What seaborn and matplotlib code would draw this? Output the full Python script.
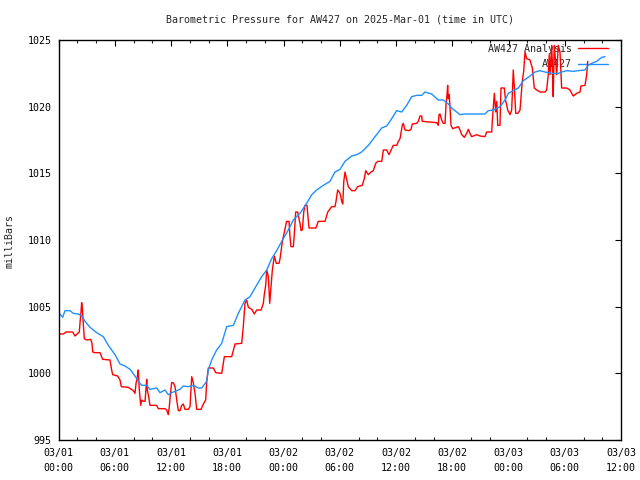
import matplotlib
matplotlib.use("Agg")
import matplotlib.pyplot as plt
import matplotlib.dates as mdates
import seaborn as sns
import pandas as pd

# ---- data (hours after 2025-03-01 00:00 UTC, pressure in mb) ----
station_hours = [0.16, 0.45, 0.69, 1.23, 1.58, 2.11, 2.47, 2.83, 3.36, 4.07, 4.78, 5.31, 6.03, 6.56,
                 7.09, 7.63, 8.16, 8.51, 8.87, 9.41, 9.76, 10.47, 10.83, 11.36, 11.71, 12.07, 12.96,
                 13.31, 13.84, 14.38, 14.91, 15.27, 15.81, 15.98, 16.34, 16.87, 17.41, 17.94, 18.65,
                 19.18, 19.89, 20.43, 20.96, 21.67, 22.21, 22.74, 23.27, 23.81, 24.51, 25.05, 25.76,
                 26.47, 27.01, 27.54, 28.25, 28.96, 29.49, 30.03, 30.56, 31.27, 31.81, 32.34, 33.05,
                 33.76, 34.47, 35.01, 35.54, 36.07, 36.61, 37.14, 37.67, 38.21, 38.74, 39.09, 39.81,
                 40.51, 41.05, 41.58, 41.94, 42.29, 42.83, 43.36, 44.07, 44.78, 45.49, 45.84, 46.38,
                 47.09, 47.63, 47.98, 48.51, 49.05, 49.58, 50.11, 50.83, 51.36, 51.89, 52.61, 53.31,
                 53.67, 54.21, 54.91, 55.45, 56.16, 56.51, 56.87, 57.41, 57.94, 58.29]
station_mb = [1004.45, 1004.2, 1004.7, 1004.7, 1004.5, 1004.45, 1004.3, 1003.9, 1003.45, 1003.05,
              1002.75, 1002.1, 1001.4, 1000.7, 1000.55, 1000.3, 999.8, 999.4, 999.1, 999.1, 998.8,
              998.9, 998.55, 998.75, 998.4, 998.55, 998.8, 999.05, 999.0, 999.1, 998.9, 998.9, 999.4,
              1000.25, 1001.0, 1001.75, 1002.25, 1003.5, 1003.6, 1004.5, 1005.5, 1005.75, 1006.4,
              1007.25, 1007.75, 1008.6, 1009.2, 1009.9, 1010.75, 1011.5, 1012.0, 1012.75, 1013.4,
              1013.75, 1014.1, 1014.4, 1015.1, 1015.3, 1015.9, 1016.3, 1016.4, 1016.6, 1017.1,
              1017.75, 1018.4, 1018.55, 1019.1, 1019.7, 1019.6, 1020.1, 1020.75, 1020.85, 1020.85,
              1021.1, 1020.95, 1020.5, 1020.5, 1020.2, 1019.9, 1019.7, 1019.4, 1019.45, 1019.45,
              1019.45, 1019.45, 1019.7, 1019.75, 1020.0, 1020.5, 1021.0, 1021.2, 1021.4, 1021.95,
              1022.2, 1022.6, 1022.7, 1022.6, 1022.5, 1022.5, 1022.6, 1022.7, 1022.65, 1022.7,
              1022.75, 1023.1, 1023.25, 1023.4, 1023.7, 1023.75]

analysis_hours = [0.16, 0.51, 0.80, 1.51, 1.76, 2.22, 2.29, 2.40, 2.47, 2.54, 2.65, 2.75, 3.01, 3.43,
                  3.57, 3.65, 3.89, 4.43, 4.71, 5.49, 5.67, 5.78, 6.31, 6.56, 6.70, 7.45, 7.98, 8.16,
                  8.27, 8.41, 8.51, 8.62, 8.77, 8.87, 9.05, 9.23, 9.41, 9.47, 9.62, 9.76, 10.47, 10.65,
                  11.36, 11.54, 11.71, 11.82, 11.89, 12.07, 12.24, 12.43, 12.61, 12.78, 12.96, 13.14,
                  13.31, 13.49, 13.84, 14.03, 14.21, 14.38, 14.56, 14.74, 15.20, 15.45, 15.70, 15.81,
                  15.98, 16.51, 16.77, 17.41, 17.69, 18.47, 18.83, 19.54, 19.71, 19.89, 20.07, 20.25,
                  20.61, 20.89, 21.14, 21.60, 21.85, 21.95, 22.10, 22.21, 22.38, 22.53, 22.67, 22.81,
                  23.02, 23.23, 23.52, 23.63, 23.88, 24.09, 24.33, 24.59, 24.69, 24.80, 25.05, 25.15,
                  25.30, 25.52, 25.65, 25.76, 25.87, 26.01, 26.16, 26.29, 26.51, 26.59, 26.72, 27.45,
                  27.71, 28.43, 28.72, 29.14, 29.49, 29.60, 29.78, 30.03, 30.21, 30.32, 30.43, 30.56,
                  30.91, 31.27, 31.63, 31.91, 32.40, 32.62, 32.77, 33.05, 33.33, 33.58, 33.84, 34.05,
                  34.48, 34.65, 35.01, 35.25, 35.54, 35.71, 36.08, 36.25, 36.43, 36.53, 36.67, 36.78,
                  36.96, 37.39, 37.60, 37.74, 38.21, 38.38, 38.56, 38.74, 38.80, 40.34, 40.51, 40.59,
                  40.69, 40.87, 41.04, 41.23, 41.33, 41.44, 41.51, 41.58, 41.68, 41.79, 41.87, 42.05,
                  42.65, 42.83, 43.01, 43.29, 43.54, 43.71, 43.89, 44.07, 44.61, 44.96, 45.49, 45.67,
                  46.21, 46.27, 46.38, 46.49, 46.64, 46.75, 46.85, 47.09, 47.20, 47.55, 47.68, 47.92,
                  48.16, 48.34, 48.51, 48.62, 48.77, 48.99, 49.23, 49.47, 49.62, 49.76, 49.94, 50.11,
                  50.29, 50.54, 50.75, 51.01, 51.36, 51.89, 52.07, 52.24, 52.35, 52.43, 52.61, 52.71,
                  52.77, 52.88, 52.96, 53.14, 53.31, 53.49, 53.67, 54.21, 54.56, 54.74, 54.91, 55.09,
                  55.27, 55.63, 55.73, 56.16, 56.34, 56.45]
analysis_mb = [1002.95, 1002.95, 1003.1, 1003.1, 1002.8, 1003.1, 1003.75, 1004.6, 1005.3, 1004.9,
               1003.75, 1002.6, 1002.5, 1002.55, 1002.25, 1001.6, 1001.55, 1001.55, 1001.05, 1001.0,
               1000.25, 999.9, 999.8, 999.5, 999.0, 998.95, 998.7, 998.5, 999.25, 999.75, 1000.25,
               998.75, 997.6, 998.0, 997.9, 997.9, 999.55, 998.75, 998.25, 997.6, 997.6, 997.35,
               997.35, 997.25, 996.9, 997.5, 998.1, 999.3, 999.3, 999.0, 998.0, 997.2, 997.2, 997.6,
               997.7, 997.3, 997.3, 997.5, 999.75, 999.3, 998.5, 997.3, 997.3, 997.7, 998.0, 999.4,
               1000.4, 1000.4, 1000.05, 1000.0, 1001.25, 1001.25, 1002.2, 1002.25, 1003.5, 1005.25,
               1005.5, 1004.95, 1004.8, 1004.45, 1004.75, 1004.75, 1005.25, 1005.9, 1006.6, 1007.75,
               1007.25, 1005.25, 1006.5, 1007.75, 1008.8, 1008.25, 1008.25, 1008.6, 1009.9, 1010.6,
               1011.4, 1011.4, 1010.25, 1009.5, 1009.5, 1010.4, 1012.1, 1012.1, 1011.6, 1011.25,
               1010.7, 1010.75, 1012.1, 1012.6, 1012.6, 1011.9, 1010.9, 1010.9, 1011.4, 1011.4,
               1012.1, 1012.5, 1012.5, 1012.9, 1013.75, 1013.5, 1012.9, 1012.7, 1014.4, 1015.1,
               1014.0, 1013.7, 1013.7, 1014.0, 1014.1, 1014.6, 1015.2, 1014.9, 1015.1, 1015.2,
               1015.75, 1015.9, 1015.9, 1016.75, 1016.75, 1016.4, 1016.85, 1017.1, 1017.1, 1017.4,
               1017.6, 1018.0, 1018.6, 1018.75, 1018.25, 1018.2, 1018.3, 1018.7, 1018.75, 1018.9,
               1019.3, 1019.3, 1018.9, 1018.8, 1018.6, 1019.4, 1019.45, 1019.0, 1018.75, 1018.75,
               1020.1, 1020.9, 1021.6, 1020.6, 1020.9, 1019.5, 1018.6, 1018.35, 1018.5, 1018.25,
               1017.9, 1017.7, 1018.0, 1018.3, 1018.0, 1017.75, 1017.9, 1017.8, 1017.75, 1018.1,
               1018.1, 1018.9, 1019.9, 1021.0, 1019.6, 1020.4, 1018.6, 1018.6, 1021.4, 1021.4,
               1020.5, 1019.75, 1019.4, 1019.75, 1022.75, 1021.5, 1019.5, 1019.5, 1019.75, 1021.9,
               1022.65, 1024.1, 1023.6, 1023.55, 1023.5, 1022.9, 1021.4, 1021.25, 1021.1, 1021.1,
               1021.25, 1022.4, 1023.9, 1022.4, 1024.6, 1022.4, 1020.75, 1024.6, 1023.9, 1022.4,
               1024.6, 1024.1, 1021.4, 1021.4, 1021.25, 1021.0, 1020.8, 1020.9, 1021.0, 1021.1,
               1021.55, 1021.6, 1022.4, 1023.4]

labels = ["AW427 Analysis", "AW427"]
title = "Barometric Pressure for AW427 on 2025-Mar-01 (time in UTC)"
ylabel = "milliBars"
start = pd.Timestamp("2025-03-01 00:00")
y_range = (995, 1025)
y_ticks = [995, 1000, 1005, 1010, 1015, 1020, 1025]

# ---- build frames ----
df_a = pd.DataFrame({"time": start + pd.to_timedelta(analysis_hours, unit="h"),
                     "mb": analysis_mb, "series": labels[0]})
df_s = pd.DataFrame({"time": start + pd.to_timedelta(station_hours, unit="h"),
                     "mb": station_mb, "series": labels[1]})
df = pd.concat([df_a, df_s], ignore_index=True)

sns.set_style("white")
plt.rcParams["font.family"] = ["DejaVu Sans Mono"]
FS = 7.2

fig = plt.figure(figsize=(6.4, 4.8), dpi=100)
ax = fig.add_axes([58.5 / 640, 1 - 440 / 480, (621 - 58.5) / 640, 400 / 480])

sns.lineplot(data=df, x="time", y="mb", hue="series", hue_order=labels,
             palette={labels[0]: "#ff0000", labels[1]: "#1e90ff"},
             estimator=None, sort=False, linewidth=1.0, ax=ax)

ax.set_xlim(start, start + pd.Timedelta(hours=60))
ax.set_ylim(*y_range)
ax.set_yticks(y_ticks)
ax.xaxis.set_major_locator(mdates.HourLocator(byhour=range(0, 24, 6)))
ax.xaxis.set_minor_locator(mdates.HourLocator(byhour=range(0, 24, 2)))
ax.xaxis.set_major_formatter(mdates.DateFormatter("%m/%d\n%H:%M"))
ax.tick_params(axis="both", which="major", direction="in", length=4.5, width=0.8,
               top=True, right=True, labelsize=FS, colors="black")
ax.tick_params(axis="x", which="minor", direction="in", length=2.5, width=0.8,
               top=True, bottom=True)
ax.tick_params(axis="x", which="major", pad=6)
ax.tick_params(axis="y", which="major", pad=5)
for s in ax.spines.values():
    s.set_color("black")
    s.set_linewidth(1.0)
ax.grid(False)
ax.set_xlabel("")
ax.set_ylabel("")

for lab in ax.get_xticklabels():
    lab.set_linespacing(1.6)

ax.set_title(title, fontsize=FS, pad=12.5)
fig.text(10 / 640, 1 - 241 / 480, ylabel, rotation=90, ha="center", va="center", fontsize=FS)

handles, hl = ax.get_legend_handles_labels()
leg = ax.legend(handles, hl, loc="upper right", bbox_to_anchor=(0.9804, 0.995),
                frameon=False, markerfirst=False, fontsize=FS, handlelength=3.0,
                handletextpad=0.6, borderaxespad=0, borderpad=0.2, labelspacing=0.55)
leg.set_zorder(1.5)
for ln in leg.get_lines():
    ln.set_linewidth(1.0)

fig.savefig("out.png", dpi=100)
